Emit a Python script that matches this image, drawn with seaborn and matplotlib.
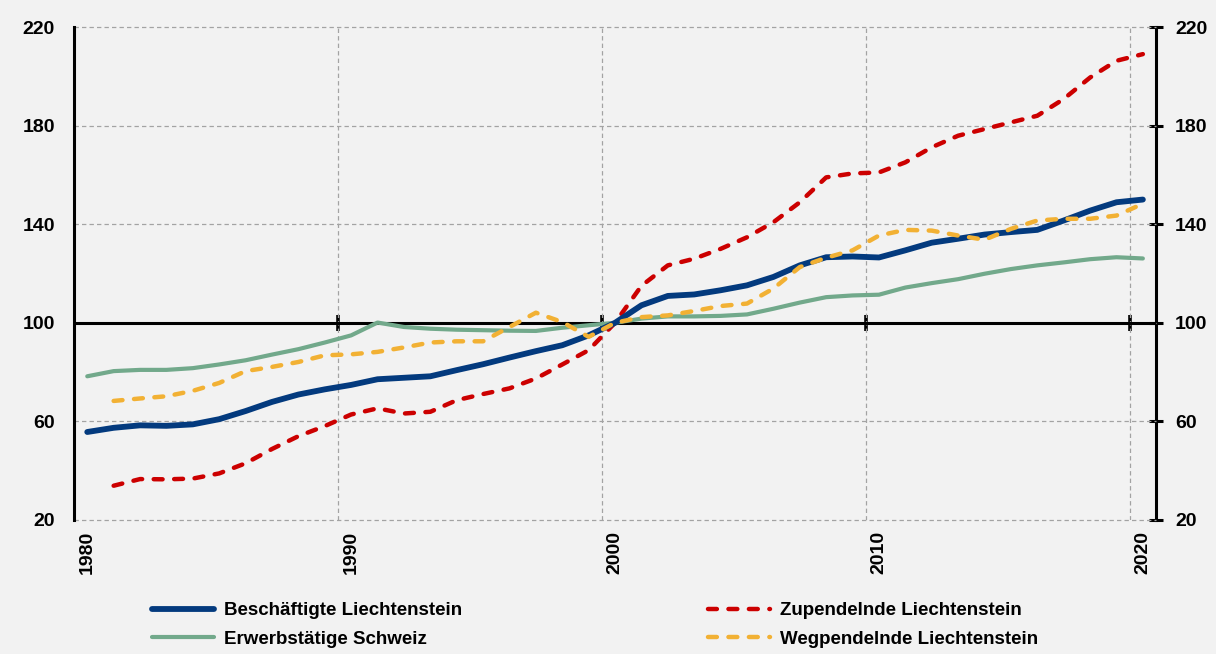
import pandas as pd
import seaborn as sns
import matplotlib.pyplot as plt

# ======================================
# Data (index values)
# ======================================

years = list(range(1980, 2021))

beschaeftigte_li = [55.7, 57.4, 58.4, 58.2, 58.8, 60.9, 64.2, 67.9, 70.9, 73.0,
                    74.8, 77.1, 77.7, 78.3, 80.8, 83.2, 85.9, 88.5, 90.9, 94.9,
                    100.0, 107.1, 110.9, 111.5, 113.2, 115.2, 118.6, 123.3, 126.6, 126.9,
                    126.5, 129.4, 132.5, 134.1, 135.8, 136.8, 137.7, 141.5, 145.5, 148.9,
                    150.0]

erwerbstaetige_ch = [78.3, 80.4, 80.9, 80.9, 81.6, 83.1, 84.8, 87.1, 89.3, 92.0,
                     94.9, 100.1, 98.3, 97.6, 97.2, 97.0, 96.8, 96.7, 98.0, 99.0,
                     100.0, 101.7, 102.6, 102.6, 102.8, 103.4, 105.7, 108.2, 110.4, 111.1,
                     111.4, 114.3, 116.1, 117.7, 119.9, 121.8, 123.3, 124.5, 125.8, 126.6,
                     126.1]

zupendelnde_li = [None, 33.9, 36.6, 36.5, 36.8, 38.9, 43.0, 48.8, 54.0, 58.1,
                  62.8, 65.3, 63.2, 63.9, 68.6, 71.1, 73.4, 77.4, 83.1, 88.9,
                  100.0, 115.0, 123.3, 126.0, 130.0, 134.7, 140.8, 148.9, 159.0, 160.6,
                  161.0, 165.1, 171.2, 175.9, 178.6, 181.3, 184.0, 190.8, 199.5, 206.3,
                  209.0]

wegpendelnde_li = [None, 68.3, 69.3, 70.2, 72.4, 75.6, 80.4, 82.1, 84.1, 86.8,
                   87.2, 88.2, 90.0, 92.0, 92.5, 92.5, 98.3, 104.1, 100.3, 94.3,
                   100.0, 102.3, 103.0, 104.8, 106.8, 107.8, 113.9, 122.6, 126.4, 129.4,
                   135.4, 137.7, 137.4, 135.4, 133.7, 138.1, 141.5, 142.2, 142.2, 143.5,
                   148.3]

label_years = [1980, 1990, 2000, 2010, 2020]
y_ticks = [20, 60, 100, 140, 180, 220]

df = pd.DataFrame({
    "Jahr": years,
    "Beschäftigte Liechtenstein": beschaeftigte_li,
    "Erwerbstätige Schweiz": erwerbstaetige_ch,
    "Zupendelnde Liechtenstein": zupendelnde_li,
    "Wegpendelnde Liechtenstein": wegpendelnde_li,
}).astype(float)

# ======================================
# Style
# ======================================

sns.set_style("white")
plt.rcParams["font.family"] = ["Liberation Sans", "DejaVu Sans"]
plt.rcParams["font.weight"] = "bold"
plt.rcParams["text.color"] = "black"
plt.rcParams["xtick.color"] = "black"
plt.rcParams["ytick.color"] = "black"

bg = "#f2f2f2"
fig = plt.figure(figsize=(12.16, 6.54), dpi=100, facecolor=bg)
ax = fig.add_axes([0.0609, 0.2049, 0.8898, 0.7538])
ax.set_facecolor(bg)

# ======================================
# Lines
# ======================================

sns.lineplot(data=df, x="Jahr", y="Beschäftigte Liechtenstein", ax=ax,
             color="#033a7e", linewidth=4.2, solid_capstyle="round",
             label="Beschäftigte Liechtenstein", zorder=5)
sns.lineplot(data=df, x="Jahr", y="Erwerbstätige Schweiz", ax=ax,
             color="#72a98b", linewidth=3.0, solid_capstyle="round",
             label="Erwerbstätige Schweiz", zorder=4)
sns.lineplot(data=df, x="Jahr", y="Zupendelnde Liechtenstein", ax=ax,
             color="#cc0000", linewidth=3.2, linestyle=(0, (2.0, 2.6)),
             dash_capstyle="round", label="Zupendelnde Liechtenstein", zorder=4)
sns.lineplot(data=df, x="Jahr", y="Wegpendelnde Liechtenstein", ax=ax,
             color="#f2b134", linewidth=3.2, linestyle=(0, (2.0, 2.6)),
             dash_capstyle="round", label="Wegpendelnde Liechtenstein", zorder=6)

# ======================================
# Axes
# ======================================

ax.set_xlim(1979.5, 2020.5)
ax.set_ylim(20, 220)
ax.set_xlabel("")
ax.set_ylabel("")

ax.set_yticks(y_ticks)
ax.tick_params(axis="y", direction="inout", length=9.5, width=2.2, pad=9,
               labelsize=14, colors="black")

boundaries = [y - 0.5 for y in label_years[1:]]
ax.set_xticks(boundaries)
ax.set_xticklabels([])
ax.tick_params(axis="x", which="major", length=0)
ax.set_xticks(label_years, labels=[str(y) for y in label_years], minor=True)
ax.tick_params(axis="x", which="minor", length=0, pad=8, labelsize=14,
               labelrotation=90, colors="black")

ax.grid(True, which="major", color="#a3a3a3", linestyle=(0, (3.5, 2.5)),
        linewidth=0.9)
for gl in ax.get_ygridlines():
    gl.set_clip_on(False)

for side in ["top", "bottom", "right"]:
    ax.spines[side].set_visible(False)
ax.spines["left"].set_linewidth(2.2)
ax.spines["left"].set_color("black")

ax.axhline(100, color="black", linewidth=2.2, zorder=2.5)

# tick marks on the 100 line
secx = ax.secondary_xaxis(0.4)
secx.set_xticks(boundaries)
secx.set_xticklabels([])
secx.tick_params(direction="inout", length=12, width=2.6, color="black")
for s in secx.spines.values():
    s.set_visible(False)

# right axis
secy = ax.secondary_yaxis("right")
secy.set_yticks(y_ticks)
secy.tick_params(direction="inout", length=9.5, width=2.2, pad=9,
                 labelsize=14, colors="black")
secy.spines["right"].set_linewidth(2.2)
secy.spines["right"].set_color("black")

# ======================================
# Legend
# ======================================

ax.legend(loc="upper left", bbox_to_anchor=(0.125, 0.079),
          bbox_transform=fig.transFigure, ncol=2, frameon=False,
          fontsize=13.5, handlelength=3.3, handletextpad=0.55,
          columnspacing=13.1, borderpad=0, borderaxespad=0,
          labelspacing=0.6)

plt.savefig("out.png", dpi=100, facecolor=bg)
